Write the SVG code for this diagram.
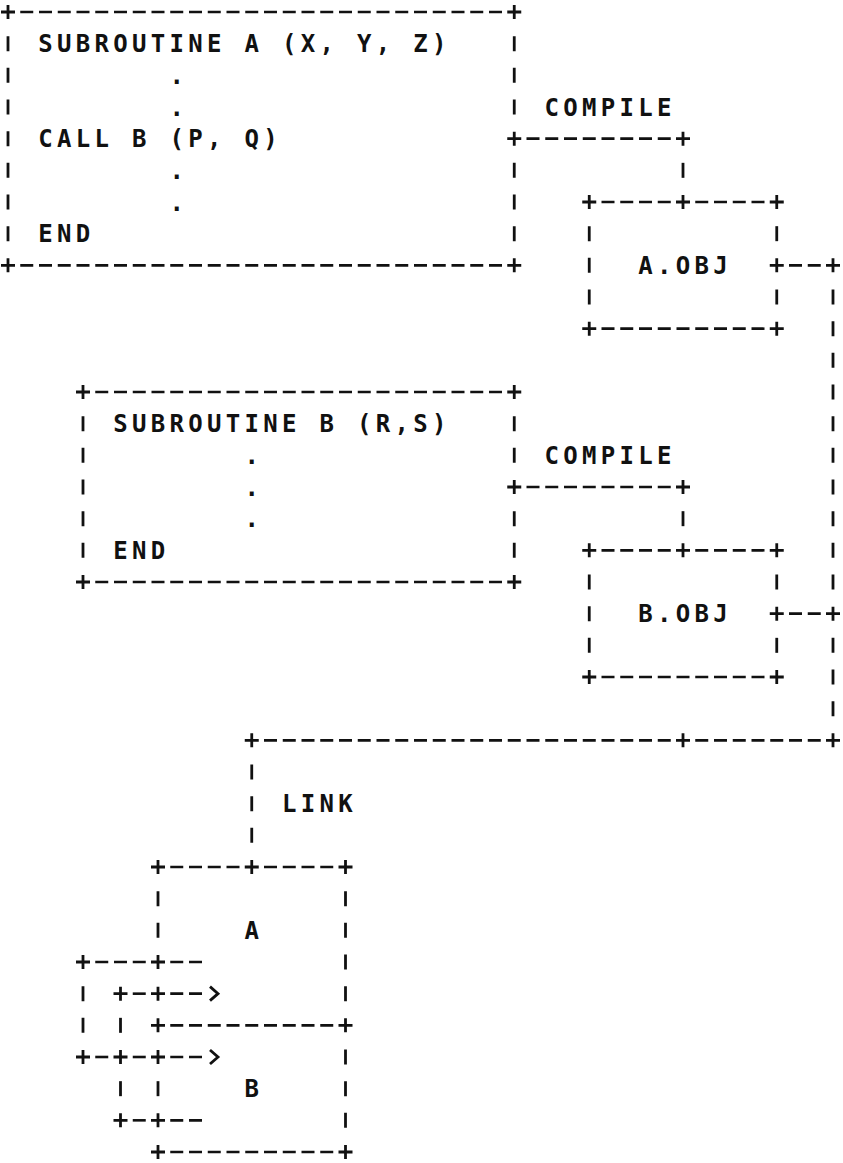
<svg xmlns="http://www.w3.org/2000/svg" width="843" height="1163" viewBox="0 0 843 1163">
<style>
.h{stroke:#111;stroke-width:2.6;stroke-dasharray:13 5.75;fill:none}
.v{stroke:#111;stroke-width:2.8;stroke-dasharray:15 16.667;fill:none}
.p{stroke:#111;stroke-width:2.8;fill:none}
.t{font-family:"DejaVu Sans Mono","Liberation Mono",monospace;font-size:24px;font-weight:bold;letter-spacing:4.3px;fill:#111}
.c{font-family:"DejaVu Sans Mono","Liberation Mono",monospace;font-size:24px;font-weight:bold;fill:#111;text-anchor:middle}
</style>
<defs>
<path id="plus" class="p" d="M-7 0H7M0 -7V7"/>
</defs>
<rect width="843" height="1163" fill="#fff"/>

<g id="src-a">
<use href="#plus" x="8" y="12"/><line class="h" x1="20.25" y1="12" x2="502" y2="12"/><use href="#plus" x="514.25" y="12"/>
<use href="#plus" x="8" y="265.33"/><line class="h" x1="20.25" y1="265.33" x2="502" y2="265.33"/><use href="#plus" x="514.25" y="265.33"/>
<line class="v" x1="8" y1="36.17" x2="8" y2="241.17"/>
<line class="v" x1="514.25" y1="36.17" x2="514.25" y2="114.5"/>
<line class="v" x1="514.25" y1="162.83" x2="514.25" y2="241.17"/>
<text class="t" x="38.3" y="52.2">SUBROUTINE A (X, Y, Z)</text>
<text class="c" x="176.75" y="83.8">.</text>
<text class="c" x="176.75" y="115.5">.</text>
<text class="t" x="38.3" y="147.2">CALL B (P, Q)</text>
<text class="c" x="176.75" y="178.8">.</text>
<text class="c" x="176.75" y="210.5">.</text>
<text class="t" x="38.3" y="242.2">END</text>
</g>

<g id="obj-a">
<use href="#plus" x="589.25" y="202"/><line class="h" x1="601.5" y1="202" x2="670.75" y2="202"/><line class="h" x1="695.25" y1="202" x2="764.5" y2="202"/><use href="#plus" x="776.75" y="202"/>
<use href="#plus" x="589.25" y="328.67"/><line class="h" x1="601.5" y1="328.67" x2="764.5" y2="328.67"/><use href="#plus" x="776.75" y="328.67"/>
<line class="v" x1="589.25" y1="226.17" x2="589.25" y2="304.5"/>
<line class="v" x1="776.75" y1="226.17" x2="776.75" y2="241.17"/>
<line class="v" x1="776.75" y1="289.5" x2="776.75" y2="304.5"/>
<text class="t" x="638.3" y="273.8">A.OBJ</text>
</g>

<g id="src-b">
<use href="#plus" x="83" y="392"/><line class="h" x1="95.25" y1="392" x2="502" y2="392"/><use href="#plus" x="514.25" y="392"/>
<use href="#plus" x="83" y="582"/><line class="h" x1="95.25" y1="582" x2="502" y2="582"/><use href="#plus" x="514.25" y="582"/>
<line class="v" x1="83" y1="416.17" x2="83" y2="557.83"/>
<line class="v" x1="514.25" y1="416.17" x2="514.25" y2="462.83"/>
<line class="v" x1="514.25" y1="511.17" x2="514.25" y2="557.83"/>
<text class="t" x="113.3" y="432.2">SUBROUTINE B (R,S)</text>
<text class="c" x="251.75" y="463.8">.</text>
<text class="c" x="251.75" y="495.5">.</text>
<text class="c" x="251.75" y="527.2">.</text>
<text class="t" x="113.3" y="558.8">END</text>
</g>

<g id="obj-b">
<use href="#plus" x="589.25" y="550.33"/><line class="h" x1="601.5" y1="550.33" x2="670.75" y2="550.33"/><line class="h" x1="695.25" y1="550.33" x2="764.5" y2="550.33"/><use href="#plus" x="776.75" y="550.33"/>
<use href="#plus" x="589.25" y="677"/><line class="h" x1="601.5" y1="677" x2="764.5" y2="677"/><use href="#plus" x="776.75" y="677"/>
<line class="v" x1="589.25" y1="574.5" x2="589.25" y2="652.83"/>
<line class="v" x1="776.75" y1="574.5" x2="776.75" y2="589.5"/>
<line class="v" x1="776.75" y1="637.83" x2="776.75" y2="652.83"/>
<text class="t" x="638.3" y="622.2">B.OBJ</text>
</g>

<g id="linked">
<use href="#plus" x="158" y="867"/><line class="h" x1="170.25" y1="867" x2="239.5" y2="867"/><line class="h" x1="264" y1="867" x2="333.25" y2="867"/><use href="#plus" x="345.5" y="867"/>
<line class="v" x1="158" y1="891.17" x2="158" y2="937.83"/>
<line class="v" x1="158" y1="1081.17" x2="158" y2="1096.17"/>
<line class="v" x1="345.5" y1="891.17" x2="345.5" y2="1001.17"/>
<line class="v" x1="345.5" y1="1049.5" x2="345.5" y2="1127.83"/>
<use href="#plus" x="158" y="1025.33"/><line class="h" x1="170.25" y1="1025.33" x2="333.25" y2="1025.33"/><use href="#plus" x="345.5" y="1025.33"/>
<use href="#plus" x="158" y="1152"/><line class="h" x1="170.25" y1="1152" x2="333.25" y2="1152"/><use href="#plus" x="345.5" y="1152"/>
<text class="c" x="251.75" y="938.8">A</text>
<text class="c" x="251.75" y="1097.2">B</text>
</g>

<g id="connectors">
<g id="compile-a">
<use href="#plus" x="514.25" y="138.67"/><line class="h" x1="526.5" y1="138.67" x2="670.75" y2="138.67"/><use href="#plus" x="683" y="138.67"/>
<line class="v" x1="683" y1="162.83" x2="683" y2="177.83"/><use href="#plus" x="683" y="202"/>
<text class="t" x="544.55" y="115.5">COMPILE</text>
</g>
<g id="compile-b">
<use href="#plus" x="514.25" y="487"/><line class="h" x1="526.5" y1="487" x2="670.75" y2="487"/><use href="#plus" x="683" y="487"/>
<line class="v" x1="683" y1="511.17" x2="683" y2="526.17"/><use href="#plus" x="683" y="550.33"/>
<text class="t" x="544.55" y="463.8">COMPILE</text>
</g>
<g id="link">
<use href="#plus" x="776.75" y="265.33"/><line class="h" x1="789" y1="265.33" x2="820.75" y2="265.33"/><use href="#plus" x="833" y="265.33"/>
<line class="v" x1="833" y1="289.5" x2="833" y2="589.5"/>
<use href="#plus" x="776.75" y="613.67"/><line class="h" x1="789" y1="613.67" x2="820.75" y2="613.67"/><use href="#plus" x="833" y="613.67"/>
<line class="v" x1="833" y1="637.83" x2="833" y2="716.17"/>
<use href="#plus" x="251.75" y="740.33"/><line class="h" x1="264" y1="740.33" x2="670.75" y2="740.33"/><use href="#plus" x="683" y="740.33"/><line class="h" x1="695.25" y1="740.33" x2="820.75" y2="740.33"/><use href="#plus" x="833" y="740.33"/>
<line class="v" x1="251.75" y1="764.5" x2="251.75" y2="842.83"/>
<use href="#plus" x="251.75" y="867"/>
<text class="t" x="282.05" y="812.2">LINK</text>
</g>
<g id="references">
<use href="#plus" x="83" y="962"/><line class="h" x1="95.25" y1="962" x2="145.75" y2="962"/><use href="#plus" x="158" y="962"/><line class="h" x1="170.25" y1="962" x2="202" y2="962"/>
<line class="v" x1="83" y1="986.17" x2="83" y2="1032.83"/>
<use href="#plus" x="120.5" y="993.67"/><line class="h" x1="132.75" y1="993.67" x2="145.75" y2="993.67"/><use href="#plus" x="158" y="993.67"/><line class="h" x1="170.25" y1="993.67" x2="202" y2="993.67"/>
<path class="p" d="M210 986.67L218 993.67L210 1000.67"/>
<line class="v" x1="120.5" y1="1017.83" x2="120.5" y2="1032.83"/>
<use href="#plus" x="83" y="1057"/><line class="h" x1="95.25" y1="1057" x2="108.25" y2="1057"/><use href="#plus" x="120.5" y="1057"/><line class="h" x1="132.75" y1="1057" x2="145.75" y2="1057"/><use href="#plus" x="158" y="1057"/><line class="h" x1="170.25" y1="1057" x2="202" y2="1057"/>
<path class="p" d="M210 1050L218 1057L210 1064"/>
<line class="v" x1="120.5" y1="1081.17" x2="120.5" y2="1096.17"/>
<use href="#plus" x="120.5" y="1120.33"/><line class="h" x1="132.75" y1="1120.33" x2="145.75" y2="1120.33"/><use href="#plus" x="158" y="1120.33"/><line class="h" x1="170.25" y1="1120.33" x2="202" y2="1120.33"/>
</g>
</g>
</svg>
